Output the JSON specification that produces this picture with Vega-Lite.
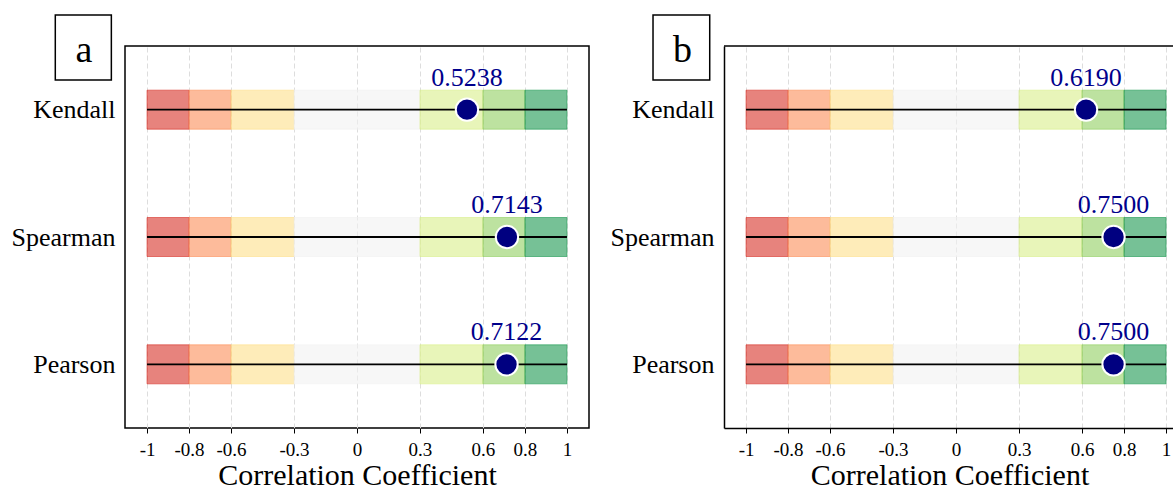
{
  "$schema": "https://vega.github.io/schema/vega-lite/v6.json",
  "background": "white",
  "padding": {"left": 10, "top": 13, "right": 0, "bottom": 0},
  "spacing": 20,
  "config": {
    "font": "Liberation Serif",
    "axisX": {
      "labelFontSize": 19,
      "labelColor": "black",
      "labelPadding": 7,
      "labelOverlap": false,
      "labelFlush": false,
      "tickColor": "black",
      "tickSize": 5,
      "tickWidth": 1,
      "grid": true,
      "gridDash": [5, 3],
      "gridColor": "#dddddd",
      "gridWidth": 1,
      "titleFontSize": 30,
      "titleFontWeight": "normal",
      "titleColor": "black",
      "titlePadding": 1
    },
    "axisY": {
      "labelFontSize": 26,
      "labelColor": "black",
      "labelPadding": 10,
      "ticks": false,
      "grid": false
    }
  },
  "datasets": {
    "values": [
      {"panel": "a", "method": "Kendall", "r": 0.5238},
      {"panel": "a", "method": "Spearman", "r": 0.7143},
      {"panel": "a", "method": "Pearson", "r": 0.7122},
      {"panel": "b", "method": "Kendall", "r": 0.6190},
      {"panel": "b", "method": "Spearman", "r": 0.7500},
      {"panel": "b", "method": "Pearson", "r": 0.7500}
    ],
    "zones": [
      {"method": "Kendall", "zone": "Strong negative", "lo": -1, "hi": -0.8},
      {"method": "Kendall", "zone": "Moderate negative", "lo": -0.8, "hi": -0.6},
      {"method": "Kendall", "zone": "Weak negative", "lo": -0.6, "hi": -0.3},
      {"method": "Kendall", "zone": "Negligible", "lo": -0.3, "hi": 0.3},
      {"method": "Kendall", "zone": "Weak positive", "lo": 0.3, "hi": 0.6},
      {"method": "Kendall", "zone": "Moderate positive", "lo": 0.6, "hi": 0.8},
      {"method": "Kendall", "zone": "Strong positive", "lo": 0.8, "hi": 1},
      {"method": "Spearman", "zone": "Strong negative", "lo": -1, "hi": -0.8},
      {"method": "Spearman", "zone": "Moderate negative", "lo": -0.8, "hi": -0.6},
      {"method": "Spearman", "zone": "Weak negative", "lo": -0.6, "hi": -0.3},
      {"method": "Spearman", "zone": "Negligible", "lo": -0.3, "hi": 0.3},
      {"method": "Spearman", "zone": "Weak positive", "lo": 0.3, "hi": 0.6},
      {"method": "Spearman", "zone": "Moderate positive", "lo": 0.6, "hi": 0.8},
      {"method": "Spearman", "zone": "Strong positive", "lo": 0.8, "hi": 1},
      {"method": "Pearson", "zone": "Strong negative", "lo": -1, "hi": -0.8},
      {"method": "Pearson", "zone": "Moderate negative", "lo": -0.8, "hi": -0.6},
      {"method": "Pearson", "zone": "Weak negative", "lo": -0.6, "hi": -0.3},
      {"method": "Pearson", "zone": "Negligible", "lo": -0.3, "hi": 0.3},
      {"method": "Pearson", "zone": "Weak positive", "lo": 0.3, "hi": 0.6},
      {"method": "Pearson", "zone": "Moderate positive", "lo": 0.6, "hi": 0.8},
      {"method": "Pearson", "zone": "Strong positive", "lo": 0.8, "hi": 1}
    ]
  },
  "hconcat": [
    {
      "width": 464,
      "height": 382,
      "view": {"stroke": "black", "strokeWidth": 1.5},
      "resolve": {"scale": {"y": "independent"}},
      "layer": [
        {
          "layer": [
            {
              "data": {"name": "zones"},
              "mark": {"type": "bar", "size": 39, "fillOpacity": 0.6, "strokeOpacity": 0.6, "strokeWidth": 1},
              "encoding": {
                "x": {"field": "lo", "type": "quantitative", "scale": {"domain": [-1.105, 1.105], "nice": false, "zero": false}, "axis": {"domain": false, "values": [-1, -0.8, -0.6, -0.3, 0, 0.3, 0.6, 0.8, 1], "labelExpr": "'' + datum.value"}, "title": "Correlation Coefficient"},
                "x2": {"field": "hi"},
                "y": {"field": "method", "type": "nominal", "scale": {"type": "point", "padding": 0.5, "domain": ["Kendall", "Spearman", "Pearson"]}, "axis": {"domain": false}, "title": null},
                "fill": {"field": "zone", "type": "nominal", "scale": {"domain": ["Strong negative", "Moderate negative", "Weak negative", "Negligible", "Weak positive", "Moderate positive", "Strong positive"], "range": ["#d73027", "#fc8d59", "#fee08b", "#f2f2f2", "#d9ef8b", "#91cf60", "#1a9850"]}, "legend": null},
                "stroke": {"field": "zone", "type": "nominal", "scale": {"domain": ["Strong negative", "Moderate negative", "Weak negative", "Negligible", "Weak positive", "Moderate positive", "Strong positive"], "range": ["#d73027", "#fc8d59", "#fee08b", "#f2f2f2", "#d9ef8b", "#91cf60", "#1a9850"]}, "legend": null}
              }
            },
            {
              "data": {"name": "values"},
              "transform": [{"filter": "datum.panel == 'a'"}],
              "mark": {"type": "rule", "color": "black", "strokeWidth": 1.8},
              "encoding": {
                "x": {"datum": -1, "type": "quantitative"},
                "x2": {"datum": 1},
                "y": {"field": "method", "type": "nominal"}
              }
            },
            {
              "data": {"name": "values"},
              "transform": [{"filter": "datum.panel == 'a'"}],
              "mark": {"type": "point", "filled": true, "shape": "circle", "size": 500, "fill": "#000080", "stroke": "white", "strokeWidth": 2, "opacity": 1},
              "encoding": {
                "x": {"field": "r", "type": "quantitative"},
                "y": {"field": "method", "type": "nominal"}
              }
            },
            {
              "data": {"name": "values"},
              "transform": [{"filter": "datum.panel == 'a'"}],
              "mark": {"type": "text", "dy": -24, "baseline": "alphabetic", "align": "center", "fontSize": 26, "color": "#00008b"},
              "encoding": {
                "x": {"field": "r", "type": "quantitative"},
                "y": {"field": "method", "type": "nominal"},
                "text": {"field": "r", "type": "quantitative", "format": ".4f"}
              }
            }
          ]
        },
        {
          "data": {"values": [{}]},
          "layer": [
            {
              "mark": {"type": "rect", "fill": null, "stroke": "black", "strokeWidth": 1.5},
              "encoding": {
                "x": {"datum": -1.437, "type": "quantitative"},
                "x2": {"datum": -1.17},
                "y": {"datum": 1.081, "type": "quantitative", "scale": {"domain": [0, 1], "nice": false, "zero": false}, "axis": null},
                "y2": {"datum": 0.911}
              }
            },
            {
              "mark": {"type": "text", "fontSize": 38, "baseline": "alphabetic", "align": "center", "color": "black"},
              "encoding": {
                "x": {"datum": -1.3, "type": "quantitative"},
                "y": {"datum": 0.958, "type": "quantitative"},
                "text": {"value": "a"}
              }
            }
          ]
        }
      ]
    },
    {
      "width": 451,
      "height": 382,
      "view": {"stroke": null},
      "resolve": {"scale": {"y": "independent"}},
      "layer": [
        {
          "layer": [
            {
              "data": {"name": "zones"},
              "mark": {"type": "bar", "size": 39, "fillOpacity": 0.6, "strokeOpacity": 0.6, "strokeWidth": 1},
              "encoding": {
                "x": {"field": "lo", "type": "quantitative", "scale": {"domain": [-1.105, 1.0426], "nice": false, "zero": false}, "axis": {"domain": true, "domainColor": "black", "domainWidth": 1.5, "values": [-1, -0.8, -0.6, -0.3, 0, 0.3, 0.6, 0.8, 1], "labelExpr": "'' + datum.value"}, "title": "Correlation Coefficient"},
                "x2": {"field": "hi"},
                "y": {"field": "method", "type": "nominal", "scale": {"type": "point", "padding": 0.5, "domain": ["Kendall", "Spearman", "Pearson"]}, "axis": {"domain": true, "domainColor": "black", "domainWidth": 1.5}, "title": null},
                "fill": {"field": "zone", "type": "nominal", "scale": {"domain": ["Strong negative", "Moderate negative", "Weak negative", "Negligible", "Weak positive", "Moderate positive", "Strong positive"], "range": ["#d73027", "#fc8d59", "#fee08b", "#f2f2f2", "#d9ef8b", "#91cf60", "#1a9850"]}, "legend": null},
                "stroke": {"field": "zone", "type": "nominal", "scale": {"domain": ["Strong negative", "Moderate negative", "Weak negative", "Negligible", "Weak positive", "Moderate positive", "Strong positive"], "range": ["#d73027", "#fc8d59", "#fee08b", "#f2f2f2", "#d9ef8b", "#91cf60", "#1a9850"]}, "legend": null}
              }
            },
            {
              "data": {"name": "values"},
              "transform": [{"filter": "datum.panel == 'b'"}],
              "mark": {"type": "rule", "color": "black", "strokeWidth": 1.8},
              "encoding": {
                "x": {"datum": -1, "type": "quantitative"},
                "x2": {"datum": 1},
                "y": {"field": "method", "type": "nominal"}
              }
            },
            {
              "data": {"name": "values"},
              "transform": [{"filter": "datum.panel == 'b'"}],
              "mark": {"type": "point", "filled": true, "shape": "circle", "size": 500, "fill": "#000080", "stroke": "white", "strokeWidth": 2, "opacity": 1},
              "encoding": {
                "x": {"field": "r", "type": "quantitative"},
                "y": {"field": "method", "type": "nominal"}
              }
            },
            {
              "data": {"name": "values"},
              "transform": [{"filter": "datum.panel == 'b'"}],
              "mark": {"type": "text", "dy": -24, "baseline": "alphabetic", "align": "center", "fontSize": 26, "color": "#00008b"},
              "encoding": {
                "x": {"field": "r", "type": "quantitative"},
                "y": {"field": "method", "type": "nominal"},
                "text": {"field": "r", "type": "quantitative", "format": ".4f"}
              }
            }
          ]
        },
        {
          "data": {"values": [{}]},
          "layer": [
            {
              "mark": {"type": "rect", "fill": null, "stroke": "black", "strokeWidth": 1.5},
              "encoding": {
                "x": {"datum": -1.443, "type": "quantitative"},
                "x2": {"datum": -1.173},
                "y": {"datum": 1.081, "type": "quantitative", "scale": {"domain": [0, 1], "nice": false, "zero": false}, "axis": null},
                "y2": {"datum": 0.911}
              }
            },
            {
              "mark": {"type": "text", "fontSize": 38, "baseline": "alphabetic", "align": "center", "color": "black"},
              "encoding": {
                "x": {"datum": -1.303, "type": "quantitative"},
                "y": {"datum": 0.958, "type": "quantitative"},
                "text": {"value": "b"}
              }
            },
            {
              "mark": {"type": "rule", "color": "black", "strokeWidth": 1.5},
              "encoding": {
                "y": {"datum": 1, "type": "quantitative"}
              }
            }
          ]
        }
      ]
    }
  ]
}
